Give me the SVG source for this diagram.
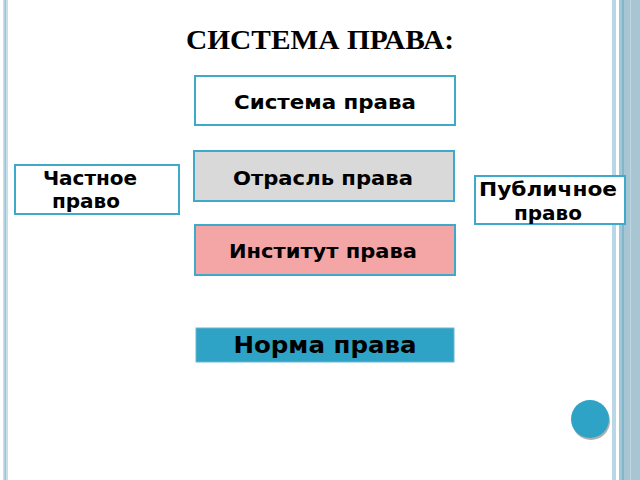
<svg xmlns="http://www.w3.org/2000/svg" width="640" height="480" viewBox="0 0 640 480">
<style>
.b{stroke:#3ea9c8;stroke-width:2}
.t{font-family:"DejaVu Sans",sans-serif;font-weight:bold;font-size:20px;fill:#000;text-anchor:middle}
</style>
<rect width="640" height="480" fill="#fff"/>
<rect x="3" y="0" width="5" height="480" fill="#c7dfe9"/>
<rect x="4.5" y="0" width="1.5" height="480" fill="#9cc6d8"/>
<rect x="612" y="0" width="4" height="480" fill="#b9d7e4"/>
<rect x="619" y="0" width="21" height="480" fill="#a8c5d3"/>
<rect x="622" y="0" width="2" height="480" fill="#7fb8cc"/>
<rect x="630" y="0" width="1" height="480" fill="#c0d7e1"/>
<text x="320" y="49" font-family="Liberation Serif,serif" font-weight="bold" font-size="28" text-anchor="middle" textLength="268" lengthAdjust="spacingAndGlyphs">СИСТЕМА ПРАВА:</text>
<g id="sys"><rect class="b" x="195" y="76" width="260" height="49" fill="#fff"/><text class="t" x="325" y="109" textLength="182" lengthAdjust="spacingAndGlyphs">Система права</text></g>
<g id="otr"><rect class="b" x="194" y="151" width="260" height="50" fill="#d9d9d9"/><text class="t" x="323" y="185" textLength="180" lengthAdjust="spacingAndGlyphs">Отрасль права</text></g>
<g id="chast"><rect class="b" x="15" y="165" width="164" height="49" fill="#fff"/><text class="t" x="90" y="185">Частное </text><text class="t" x="86" y="208">право</text></g>
<g id="publ"><rect class="b" x="475" y="176" width="150" height="48" fill="#fff"/><text class="t" x="548" y="196" textLength="138" lengthAdjust="spacingAndGlyphs">Публичное</text><text class="t" x="548" y="220">право</text></g>
<g id="inst"><rect class="b" x="195" y="225" width="260" height="50" fill="#f4a6a6"/><text class="t" x="323" y="258" textLength="188" lengthAdjust="spacingAndGlyphs">Институт права</text></g>
<g id="norm"><rect x="196" y="328" width="258" height="34" fill="#2fa3c6" stroke="#6ab7d0" stroke-width="1"/><text class="t" x="325" y="353" style="font-size:23px" textLength="183" lengthAdjust="spacingAndGlyphs">Норма права</text></g>
<g id="connectors"></g>
<circle cx="591" cy="421" r="19" fill="#7a7a7a" opacity="0.6"/>
<circle cx="590" cy="419" r="19" fill="#2fa3c6"/>
</svg>
